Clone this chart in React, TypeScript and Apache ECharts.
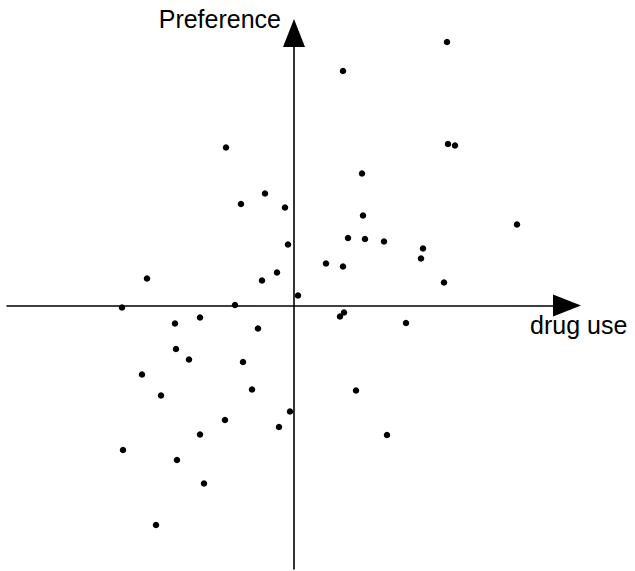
import React, { useEffect, useRef } from "react";
import * as echarts from "echarts";

// drug use (x) and preference (y) values (arbitrary units)
const drugUse: number[] = [
  153, 49, -68, 154, 161, 68, -29, -53, -9, 69, 223, -6, 54, 71, 90, 129, 127, 32,
  49, -17, -32, -147, 150, 4, -59, -172, 50, 46, -94, -119, 112, -36, -118, -105,
  -51, -152, -133, -42, 62, -4, -69, -15, -94, 93, -171, -117, -90, -138,
];
const preference: number[] = [
  263.5, 234.5, 158, 161.5, 160, 132, 112, 101.5, 98, 90, 81, 61, 67.5, 66.5, 64,
  57, 47, 42, 39, 33, 25, 27, 23, 10, 0.5, -2, -7, -11, -12, -18, -17.5, -23, -43.5,
  -54, -56.5, -69, -90, -84, -85, -106, -114.5, -121.5, -129, -129.5, -144.5,
  -154.5, -178, -219.5,
];

const xName = "drug use";
const yName = "Preference";
const xRange = [-287, 273];
const yRange = [-263.5, 272.5];

export default function App() {
  const ref = useRef<HTMLDivElement>(null);
  useEffect(() => {
    document.body.style.margin = "0";
    if (!ref.current) return;
    const chart = echarts.init(ref.current, undefined, { renderer: "svg" });
    const points = drugUse.map((x, i) => [x, preference[i]]);
    const font = "'Liberation Sans', Arial, Helvetica, sans-serif";
    const axisLine = {
      show: true,
      onZero: true,
      symbol: ["none", "triangle"],
      symbolSize: [22, 28],
      lineStyle: { color: "#000", width: 1.6 },
    };
    chart.setOption({
      animation: false,
      backgroundColor: "#fff",
      grid: { left: 7, right: 68, top: 33, bottom: 2, containLabel: false },
      xAxis: {
        type: "value",
        min: xRange[0],
        max: xRange[1],
        axisLine,
        axisTick: { show: false },
        axisLabel: { show: false },
        splitLine: { show: false },
        name: xName,
        nameLocation: "end",
        nameGap: -37,
        nameTextStyle: {
          fontFamily: font,
          fontSize: 25,
          color: "#000",
          align: "left",
          verticalAlign: "top",
          padding: [7, 0, 0, 0],
        },
      },
      yAxis: {
        type: "value",
        min: yRange[0],
        max: yRange[1],
        axisLine,
        axisTick: { show: false },
        axisLabel: { show: false },
        splitLine: { show: false },
        name: yName,
        nameLocation: "end",
        nameGap: 2,
        nameTextStyle: {
          fontFamily: font,
          fontSize: 25,
          color: "#000",
          align: "right",
          verticalAlign: "bottom",
          padding: [0, 13, 0, 0],
        },
      },
      series: [
        {
          type: "scatter",
          data: points,
          symbol: "circle",
          symbolSize: 6.5,
          itemStyle: { color: "#000", opacity: 1 },
        },
      ],
    });
    return () => chart.dispose();
  }, []);
  return <div ref={ref} style={{ width: 635, height: 571 }} />;
}
